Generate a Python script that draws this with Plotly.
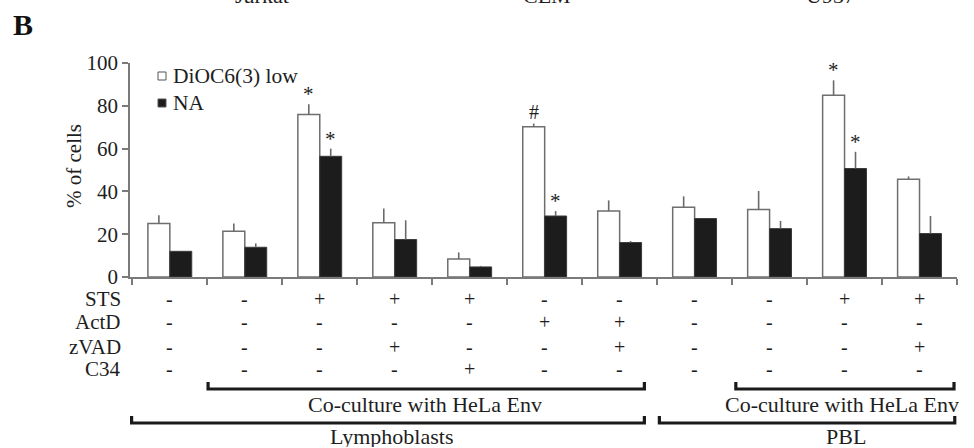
import plotly.graph_objects as go

# ---------------- data ----------------
conditions = ["L-ctrl", "L-co", "L-co+STS", "L-co+STS+zVAD", "L-co+STS+C34",
              "L-co+ActD", "L-co+ActD+zVAD", "P-ctrl", "P-co", "P-co+STS", "P-co+STS+zVAD"]
dioc_low = [25.0, 21.4, 75.9, 25.4, 8.4, 70.2, 30.8, 32.6, 31.5, 84.9, 45.7]
dioc_err = [3.9, 3.6, 4.8, 6.6, 3.1, 1.5, 5.0, 5.1, 8.7, 7.0, 1.3]
na_vals = [12.0, 13.9, 56.4, 17.5, 4.7, 28.5, 16.1, 27.3, 22.6, 50.7, 20.3]
na_err = [0.0, 1.8, 3.6, 9.0, 0.5, 2.3, 0.7, 0.0, 3.6, 7.8, 8.2]

row_labels = ["STS", "ActD", "zVAD", "C34"]
sts = ["-", "-", "+", "+", "+", "-", "-", "-", "-", "+", "+"]
actd = ["-", "-", "-", "-", "-", "+", "+", "-", "-", "-", "-"]
zvad = ["-", "-", "-", "+", "-", "-", "+", "-", "-", "-", "+"]
c34 = ["-", "-", "-", "-", "+", "-", "-", "-", "-", "-", "-"]

# significance marks: (condition index, series, symbol)
marks = [(2, "dioc", "*"), (2, "na", "*"), (5, "dioc", "#"), (5, "na", "*"),
         (9, "dioc", "*"), (9, "na", "*")]

top_titles = ["Jurkat", "CEM", "U937"]
series_names = ["DiOC6(3) low", "NA"]

# ---------------- layout helpers ----------------
W, H = 974, 448
ML, MR, MT, MB = 130, 17, 63, 171
PW = W - ML - MR
PH = H - MT - MB
FONT = "Liberation Serif"
TXT = "#1e1e1e"
AX = "#7a7a7a"


def px(xp):
    return (xp - ML) / PW


def py(yp):
    return (H - MB - yp) / PH


fig = go.Figure()
fig.add_trace(go.Bar(
    x=conditions, y=dioc_low, name=series_names[0],
    marker=dict(color="white", line=dict(color="#6e6e6e", width=1.5)),
    error_y=dict(type="data", array=dioc_err, arrayminus=[0] * len(dioc_err),
                 symmetric=False, width=0, thickness=1.6, color="#6a6a6a"),
    showlegend=False,
))
fig.add_trace(go.Bar(
    x=conditions, y=na_vals, name=series_names[1],
    marker=dict(color="#1c1c1c", line=dict(color="#3a3a3a", width=1)),
    error_y=dict(type="data", array=na_err, arrayminus=[0] * len(na_err),
                 symmetric=False, width=0, thickness=1.6, color="#6a6a6a"),
    showlegend=False,
))

annotations = []
shapes = []

# significance marks
for idx, ser, sym in marks:
    if ser == "dioc":
        yv = dioc_low[idx] + dioc_err[idx]
        xs = -11
    else:
        yv = na_vals[idx] + na_err[idx]
        xs = 11
    annotations.append(dict(x=conditions[idx], y=yv, xref="x", yref="y", text=sym,
                            showarrow=False, xshift=xs, yshift=12 if sym == "#" else 10,
                            yanchor="middle",
                            font=dict(family=FONT, size=21 if sym == "*" else 20, color=TXT)))

# condition table
rows = [sts, actd, zvad, c34]
row_y = [299, 321.5, 346.5, 369]
for lab, vals, yp in zip(row_labels, rows, row_y):
    annotations.append(dict(x=px(123), y=py(yp), xref="paper", yref="paper", text=lab,
                            showarrow=False, xanchor="right", yanchor="middle",
                            font=dict(family=FONT, size=21, color=TXT)))
    for c, v in zip(conditions, vals):
        annotations.append(dict(x=c, y=py(yp), xref="x", yref="paper", text=v,
                                showarrow=False, xanchor="center", yanchor="middle",
                                font=dict(family=FONT, size=20, color=TXT)))

# brackets (x in category index units)
def bracket(x0, x1, yp):
    y0 = py(yp)
    y1 = py(yp - 7)
    shapes.append(dict(type="path", xref="x", yref="paper",
                       path=f"M {x0},{y1} L {x0},{y0} L {x1},{y0} L {x1},{y1}",
                       line=dict(color="#1a1a1a", width=3.2)))

bracket(0.51, 6.33, 389)
bracket(7.55, 10.46, 389)
bracket(-0.51, 6.33, 423)
bracket(6.53, 10.47, 423)

for text, xp, yp in [("Co-culture with HeLa Env", 425, 404), ("Co-culture with HeLa Env", 842, 404),
                     ("Lymphoblasts", 391, 436), ("PBL", 846, 436)]:
    annotations.append(dict(x=px(xp), y=py(yp), xref="paper", yref="paper", text=text,
                            showarrow=False, xanchor="center", yanchor="middle", height=22,
                            font=dict(family=FONT, size=22, color=TXT)))

# top (cut) titles
for text, xp in zip(top_titles, [262, 547, 830]):
    annotations.append(dict(x=px(xp), y=py(10), xref="paper", yref="paper", text=text,
                            showarrow=False, xanchor="center", yanchor="bottom",
                            font=dict(family=FONT, size=22, color=TXT)))

# panel letter
annotations.append(dict(x=px(11), y=py(24), xref="paper", yref="paper", text="<b>B</b>",
                        showarrow=False, xanchor="left", yanchor="middle",
                        font=dict(family=FONT, size=30, color="#111")))

# y-axis title
annotations.append(dict(x=px(74), y=py(166), xref="paper", yref="paper", text="% of cells",
                        showarrow=False, textangle=-90, xanchor="center", yanchor="middle",
                        font=dict(family=FONT, size=21, color=TXT)))

# manual legend
for i, (name, fill) in enumerate(zip(series_names, ["white", "#1c1c1c"])):
    yc = 76 + 27 * i
    shapes.append(dict(type="rect", xref="paper", yref="paper",
                       x0=px(158), x1=px(166), y0=py(yc + 4), y1=py(yc - 4),
                       fillcolor=fill, line=dict(color="#555", width=1)))
    annotations.append(dict(x=px(171), y=py(yc), xref="paper", yref="paper", text=name,
                            showarrow=False, xanchor="left", yanchor="middle",
                            font=dict(family=FONT, size=21.5, color=TXT)))

fig.update_layout(
    width=W, height=H,
    margin=dict(l=ML, r=MR, t=MT, b=MB),
    paper_bgcolor="white", plot_bgcolor="white",
    barmode="group", bargap=0.415, bargroupgap=0,
    font=dict(family=FONT, size=21, color=TXT),
    annotations=annotations, shapes=shapes,
    showlegend=False,
)
fig.update_xaxes(showticklabels=False, showline=True, linecolor=AX, linewidth=1.5,
                 ticks="outside", ticklen=6, tickcolor=AX, tickwidth=1.5,
                 tickson="boundaries", showgrid=False, zeroline=False)
fig.update_yaxes(range=[0, 100], tickvals=[0, 20, 40, 60, 80, 100], showline=True,
                 linecolor=AX, linewidth=1.5, ticks="outside", ticklen=6, tickcolor=AX,
                 tickwidth=1.5, showgrid=False, zeroline=False,
                 tickfont=dict(family=FONT, size=21, color=TXT))

fig.write_html("out.html", config={"displayModeBar": False},
               post_script="document.body.style.margin='0';")
